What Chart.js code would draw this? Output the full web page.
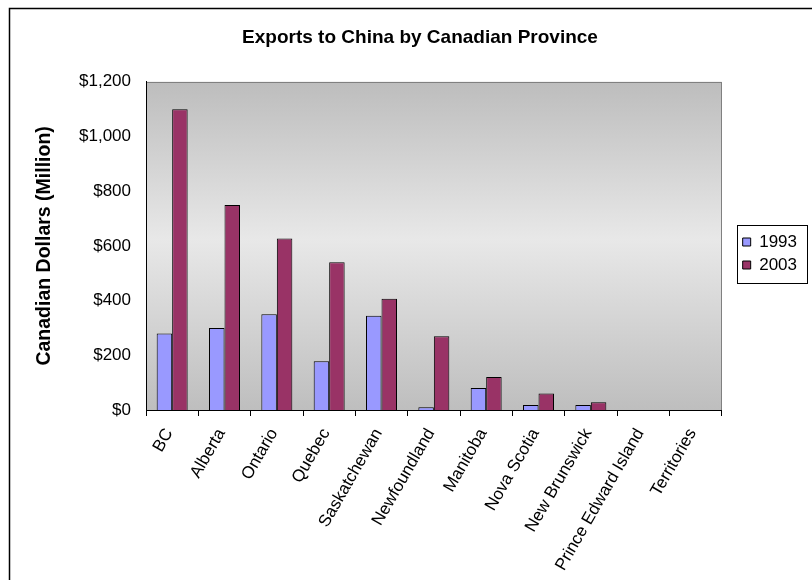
<!DOCTYPE html>
<html>
<head>
<meta charset="utf-8">
<title>Exports to China by Canadian Province</title>
<script src="https://cdn.jsdelivr.net/npm/chart.js@4.4.0/dist/chart.umd.min.js"></script>
<style>
  html, body { margin: 0; padding: 0; background: #fff; }
</style>
</head>
<body>
<canvas id="exportsChart" width="812" height="580"></canvas>
<script>
// exports by province, millions of Canadian dollars
const provinces = ["BC", "Alberta", "Ontario", "Quebec", "Saskatchewan", "Newfoundland",
                   "Manitoba", "Nova Scotia", "New Brunswick", "Prince Edward Island", "Territories"];
const exports1993 = [280, 300, 350, 178, 345, 10, 80, 18, 18, 0, 0];
const exports2003 = [1100, 750, 627, 540, 407, 270, 121, 60, 28, 0, 0];
const yMin = 0;
const yMax = 1200;
const yStep = 200;

const FONT = 'Arial, "Liberation Sans", sans-serif';
Chart.defaults.font.family = FONT;
Chart.defaults.color = "#000";

// outer frame, gradient plot area and the box round the legend
const chartDecor = {
  id: "chartDecor",
  beforeDraw(chart) {
    const { ctx, chartArea: a } = chart;
    ctx.save();
    ctx.fillStyle = "#fff";
    ctx.fillRect(0, 0, chart.width, chart.height);
    ctx.strokeStyle = "#000";
    ctx.lineWidth = 1.5;
    ctx.strokeRect(9.5, 8.5, chart.width + 20, chart.height + 20);

    const g = ctx.createLinearGradient(0, a.top, 0, a.bottom);
    g.addColorStop(0, "#bdbdbd");
    g.addColorStop(0.48, "#e8e8e8");
    g.addColorStop(1, "#bebebe");
    ctx.fillStyle = g;
    ctx.fillRect(a.left, a.top, a.right - a.left, a.bottom - a.top);
    ctx.strokeStyle = "#808080";
    ctx.lineWidth = 1;
    ctx.strokeRect(Math.round(a.left) + 0.5, Math.round(a.top) + 0.5,
                   Math.round(a.right - a.left) - 1, Math.round(a.bottom - a.top));
    ctx.restore();
  },
  afterDraw(chart) {
    const hb = chart.legend && chart.legend.legendHitBoxes;
    if (!hb || !hb.length) return;
    const { ctx } = chart;
    const left = Math.min(...hb.map(b => b.left)) - 6;
    const top = Math.min(...hb.map(b => b.top)) - 9;
    const right = Math.max(...hb.map(b => b.left + b.width)) + 10;
    const bottom = Math.max(...hb.map(b => b.top + b.height)) + 9;
    ctx.save();
    ctx.strokeStyle = "#000";
    ctx.lineWidth = 1;
    ctx.strokeRect(Math.round(left) + 0.5, Math.round(top) + 0.5,
                   Math.round(right - left), Math.round(bottom - top));
    ctx.restore();
  }
};

new Chart(document.getElementById("exportsChart"), {
  type: "bar",
  data: {
    labels: provinces,
    datasets: [
      {
        label: "1993",
        data: exports1993,
        backgroundColor: "#9999ff",
        borderColor: "#000",
        borderWidth: 1,
        yAxisID: "y"
      },
      {
        label: "2003",
        data: exports2003,
        backgroundColor: "#993366",
        borderColor: "#000",
        borderWidth: 1,
        yAxisID: "y"
      }
    ]
  },
  options: {
    responsive: false,
    animation: false,
    categoryPercentage: 0.592,
    barPercentage: 1,
    layout: { padding: { top: 26, left: 33, right: 5, bottom: 0 } },
    plugins: {
      title: {
        display: true,
        text: "Exports to China by Canadian Province",
        font: { size: 19, weight: "bold" },
        color: "#000",
        padding: { top: 0, bottom: 33 }
      },
      legend: {
        position: "right",
        fullSize: false,
        // blank title only nudges the entries down a little
        title: { display: true, text: "", font: { size: 1 }, padding: { top: 14, bottom: 0 } },
        labels: {
          boxWidth: 8,
          boxHeight: 8,
          padding: 6,
          font: { size: 17 },
          color: "#000"
        }
      },
      tooltip: { enabled: false }
    },
    scales: {
      x: {
        grid: {
          display: true,
          drawOnChartArea: false,
          drawTicks: true,
          tickLength: 6,
          color: "#000",
          offset: true
        },
        border: { color: "#000", width: 1 },
        ticks: {
          autoSkip: false,
          minRotation: 60,
          maxRotation: 60,
          padding: 9,
          labelOffset: -3,
          font: { size: 17 }
        },
        afterFit(scale) { scale.height = 170; }
      },
      y: {
        min: yMin,
        max: yMax,
        grid: { display: false, drawTicks: false },
        border: { color: "#000", width: 1 },
        ticks: {
          stepSize: yStep,
          padding: 15,
          font: { size: 17 },
          callback: v => "$" + v.toLocaleString("en-US")
        },
        title: {
          display: true,
          text: "Canadian Dollars (Million)",
          font: { size: 19.5, weight: "bold" },
          padding: 0
        },
        afterFit(scale) { scale.width = 113; }
      },
      // empty spacer between the plot and the legend
      gap: {
        type: "linear",
        position: "right",
        display: true,
        grid: { display: false, drawTicks: false },
        border: { display: false },
        ticks: { display: false },
        afterFit(scale) { scale.width = 15; }
      }
    }
  },
  plugins: [chartDecor]
});
</script>
</body>
</html>
